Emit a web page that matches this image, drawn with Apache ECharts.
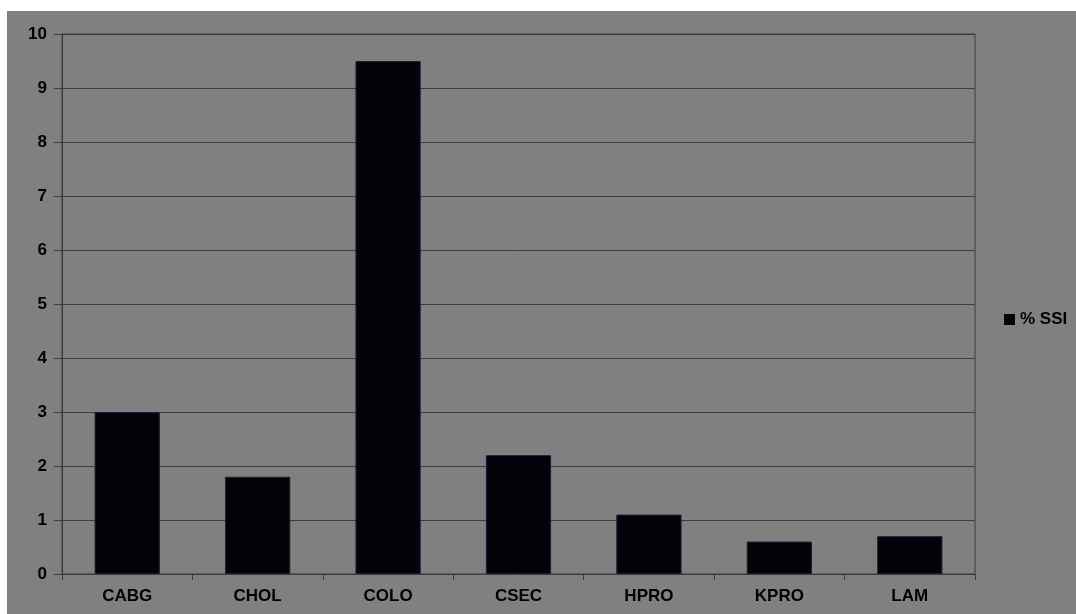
<!DOCTYPE html>
<html>
<head>
<meta charset="utf-8">
<script src="https://cdn.jsdelivr.net/npm/echarts@6/dist/echarts.min.js"></script>
<style>
  html, body { margin: 0; padding: 0; background: #fff; }
  #main { width: 1076px; height: 614px; }
</style>
</head>
<body>
<div id="main"></div>
<script>
var categories = ['CABG', 'CHOL', 'COLO', 'CSEC', 'HPRO', 'KPRO', 'LAM']
var ssiValues = [3.0, 1.8, 9.5, 2.2, 1.1, 0.6, 0.7]
var seriesName = '% SSI'

var myChart = echarts.init(document.getElementById('main'))
var lineColor = '#3c3c3c'
var font = 'Liberation Sans, Arial, sans-serif'

var option = {
    backgroundColor: '#ffffff',
    animation: false,
    graphic: [{
        type: 'rect',
        z: -10,
        shape: { x: 7, y: 11, width: 1069, height: 603 },
        style: { fill: '#808080' }
    }],
    grid: {
        left: 62, top: 34, right: 101, bottom: 40,
        show: true,
        borderColor: lineColor,
        borderWidth: 1
    },
    legend: {
        data: [seriesName],
        left: 999,
        top: 306,
        icon: 'rect',
        itemWidth: 11,
        itemHeight: 11,
        itemStyle: { borderWidth: 0 },
        textStyle: { color: '#000', fontSize: 17, fontWeight: 'bold', fontFamily: font }
    },
    xAxis: {
        type: 'category',
        data: categories,
        axisLine: { lineStyle: { color: lineColor } },
        axisTick: { show: true, length: 6, lineStyle: { color: lineColor } },
        axisLabel: { color: '#000', fontSize: 17, fontWeight: 'bold', fontFamily: font, margin: 14 }
    },
    yAxis: {
        type: 'value',
        min: 0,
        max: 10,
        interval: 1,
        axisLine: { show: true, lineStyle: { color: lineColor } },
        axisTick: { show: true, length: 8, lineStyle: { color: lineColor } },
        axisLabel: { color: '#000', fontSize: 17, fontWeight: 'bold', fontFamily: font, margin: 15 },
        splitLine: { lineStyle: { color: lineColor } }
    },
    series: [{
        name: seriesName,
        type: 'bar',
        barWidth: '50%',
        data: ssiValues,
        itemStyle: { color: '#020208', borderColor: '#1a1d3a', borderWidth: 1 }
    }]
}
myChart.setOption(option)
</script>
</body>
</html>
